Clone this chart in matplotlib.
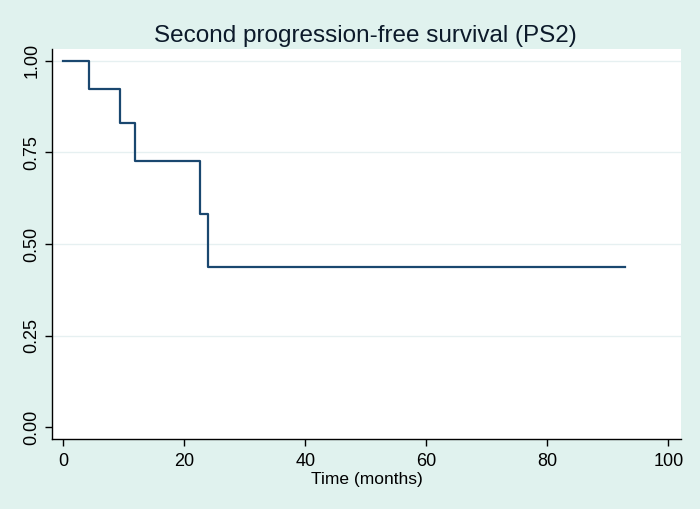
import matplotlib
matplotlib.use("Agg")
import matplotlib.pyplot as plt

# Kaplan-Meier estimate
time_months = [0, 4.2, 9.4, 11.9, 22.6, 23.9, 92.8]
survival = [1.0, 0.923, 0.831, 0.727, 0.582, 0.437, 0.437]
xticks = [0, 20, 40, 60, 80, 100]
yticks = [0.0, 0.25, 0.5, 0.75, 1.0]
ytick_labels = ["0.00", "0.25", "0.50", "0.75", "1.00"]

BG = "#e0f2ee"
LINE = "#1a476f"
GRID = "#e6f0f1"

plt.rcParams['font.family'] = ['Liberation Sans', 'DejaVu Sans']

fig = plt.figure(figsize=(7.0, 5.09), dpi=100, facecolor=BG)
ax = fig.add_axes([0.0739, 0.137, 0.899, 0.766])
ax.set_facecolor("white")

ax.step(time_months, survival, where="post", color=LINE, lw=1.6)

ax.set_xlim(-1.9, 102.1)
ax.set_ylim(-0.033, 1.031)
ax.set_xticks(xticks)
ax.set_yticks(yticks)
ax.set_yticklabels(ytick_labels, rotation=90, va="center")
ax.tick_params(axis="both", labelsize=13, colors="#000000", length=5, width=1)
ax.tick_params(axis="y", pad=3)
ax.tick_params(axis="x", pad=5)

for y in yticks[1:]:
    ax.axhline(y, color=GRID, lw=1, zorder=0)

for s in ["top", "right"]:
    ax.spines[s].set_visible(False)
for s in ["left", "bottom"]:
    ax.spines[s].set_color("#000000")
    ax.spines[s].set_linewidth(1)

ax.set_xlabel("Time (months)", fontsize=12.5, labelpad=1)
fig.suptitle("Second progression-free survival (PS2)", fontsize=17.5, x=0.522, y=0.95, color="#0c1a2a")

fig.savefig("out.png", dpi=100, facecolor=BG)
